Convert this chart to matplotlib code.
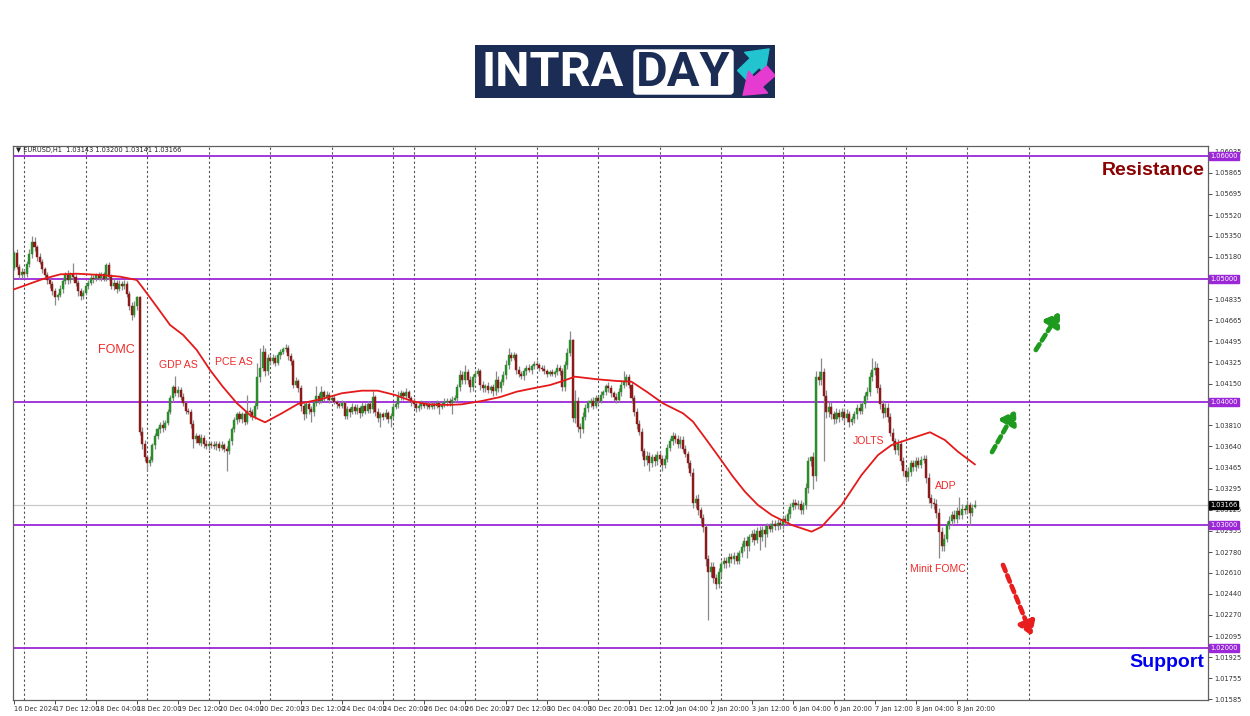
import matplotlib
matplotlib.use('Agg')
import matplotlib.pyplot as plt
from matplotlib.patches import Rectangle, FancyBboxPatch, FancyArrowPatch

# ---------------- data ----------------
symbol_header = "\u25BC EURUSD,H1  1.03143 1.03200 1.03141 1.03166"
last_ohlc = (1.03143, 1.03200, 1.03141, 1.03166)
first_open = 1.0509

closes = [
    1.0521, 1.0510, 1.0503, 1.0506, 1.0504, 1.0512, 1.0520, 1.0530, 1.0526, 1.0518,
    1.0514, 1.0508, 1.0503, 1.0499, 1.0496, 1.0490, 1.0485, 1.0487, 1.0492, 1.0498,
    1.0503, 1.0499, 1.0504, 1.0502, 1.0497, 1.0490, 1.0486, 1.0489, 1.0494, 1.0497,
    1.0501, 1.0500, 1.0503, 1.0501, 1.0504, 1.0500, 1.0511, 1.0502, 1.0494, 1.0497,
    1.0492, 1.0496, 1.0494, 1.0496, 1.0488, 1.0478, 1.0471, 1.0478, 1.0485, 1.0376,
    1.0366, 1.0355, 1.0350, 1.0353, 1.0365, 1.0372, 1.0378, 1.0381, 1.0379, 1.0383,
    1.0392, 1.0403, 1.0412, 1.0407, 1.0410, 1.0404, 1.0399, 1.0393, 1.0392, 1.0382,
    1.0370, 1.0372, 1.0367, 1.0371, 1.0366, 1.0364, 1.0366, 1.0365, 1.0364, 1.0366,
    1.0363, 1.0365, 1.0362, 1.0360, 1.0368, 1.0378, 1.0385, 1.0390, 1.0386, 1.0390,
    1.0384, 1.0393, 1.0392, 1.0388, 1.0397, 1.0420, 1.0428, 1.0441, 1.0425, 1.0436,
    1.0433, 1.0436, 1.0432, 1.0438, 1.0441, 1.0443, 1.0444, 1.0437, 1.0433, 1.0414,
    1.0417, 1.0411, 1.0397, 1.0390, 1.0398, 1.0394, 1.0392, 1.0399, 1.0405, 1.0401,
    1.0408, 1.0404, 1.0406, 1.0402, 1.0403, 1.0400, 1.0398, 1.0397, 1.0399, 1.0389,
    1.0394, 1.0392, 1.0396, 1.0393, 1.0395, 1.0391, 1.0397, 1.0393, 1.0398, 1.0394,
    1.0404, 1.0392, 1.0387, 1.0390, 1.0388, 1.0391, 1.0386, 1.0389, 1.0396, 1.0398,
    1.0404, 1.0407, 1.0405, 1.0408, 1.0403, 1.0400, 1.0398, 1.0395, 1.0397, 1.0399,
    1.0397, 1.0398, 1.0396, 1.0398, 1.0397, 1.0399, 1.0396, 1.0398, 1.0400, 1.0401,
    1.0399, 1.0402, 1.0403, 1.0412, 1.0422, 1.0418, 1.0424, 1.0418, 1.0412, 1.0420,
    1.0423, 1.0425, 1.0414, 1.0411, 1.0413, 1.0410, 1.0412, 1.0409, 1.0418, 1.0411,
    1.0416, 1.0422, 1.0430, 1.0438, 1.0436, 1.0438, 1.0426, 1.0423, 1.0421, 1.0425,
    1.0428, 1.0426, 1.0429, 1.0431, 1.0430, 1.0428, 1.0427, 1.0425, 1.0423, 1.0424,
    1.0423, 1.0424, 1.0428, 1.0425, 1.0412, 1.0430, 1.0440, 1.0450, 1.0387, 1.0401,
    1.0380, 1.0378, 1.0388, 1.0395, 1.0399, 1.0401, 1.0397, 1.0403, 1.0401, 1.0406,
    1.0408, 1.0413, 1.0411, 1.0407, 1.0404, 1.0402, 1.0408, 1.0414, 1.0416, 1.0420,
    1.0414, 1.0403, 1.0392, 1.0382, 1.0376, 1.0360, 1.0353, 1.0356, 1.0350, 1.0355,
    1.0352, 1.0357, 1.0354, 1.0349, 1.0354, 1.0363, 1.0368, 1.0372, 1.0370, 1.0366,
    1.0369, 1.0362, 1.0358, 1.0350, 1.0342, 1.0318, 1.0321, 1.0312, 1.0306, 1.0298,
    1.0272, 1.0262, 1.0266, 1.0257, 1.0252, 1.0262, 1.0268, 1.0271, 1.0269, 1.0274,
    1.0272, 1.0275, 1.0271, 1.0277, 1.0282, 1.0287, 1.0283, 1.0290, 1.0293, 1.0288,
    1.0295, 1.0290, 1.0296, 1.0293, 1.0299, 1.0297, 1.0301, 1.0299, 1.0302, 1.0300,
    1.0305, 1.0303, 1.0309, 1.0315, 1.0318, 1.0316, 1.0317, 1.0312, 1.0316, 1.0330,
    1.0352, 1.0355, 1.0340, 1.0420, 1.0418, 1.0424, 1.0405, 1.0392, 1.0396, 1.0390,
    1.0386, 1.0391, 1.0388, 1.0392, 1.0387, 1.0390, 1.0384, 1.0386, 1.0390, 1.0395,
    1.0393, 1.0398, 1.0405, 1.0408, 1.0420, 1.0426, 1.0428, 1.0411, 1.0398, 1.0391,
    1.0395, 1.0388, 1.0375, 1.0368, 1.0361, 1.0366, 1.0352, 1.0344, 1.0339, 1.0343,
    1.0350, 1.0347, 1.0352, 1.0349, 1.0353, 1.0354, 1.0338, 1.0322, 1.0318, 1.0317,
    1.0310, 1.0294, 1.0283, 1.0289, 1.0300, 1.0303, 1.0308, 1.0305, 1.0311, 1.0308,
    1.0313, 1.0312, 1.0316, 1.0310, 1.0314, 1.03166,
]

# upper / lower wick lengths in pips, read per candle
wick_up = [
    2, 3, 2, 3, 2, 3, 4, 5, 4, 2, 3, 2, 2, 3, 2, 2, 3, 2, 3, 2,
    3, 4, 2, 9, 2, 2, 3, 2, 3, 2, 3, 2, 2, 3, 2, 2, 2, 3, 2, 3,
    2, 3, 2, 3, 2, 2, 3, 4, 1, 1, 4, 3, 2, 3, 2, 3, 2, 3, 4, 2,
    2, 3, 2, 9, 3, 2, 3, 2, 2, 2, 3, 3, 2, 3, 2, 3, 2, 2, 3, 2,
    2, 3, 2, 2, 3, 2, 3, 2, 3, 2, 3, 13, 3, 2, 4, 12, 16, 5, 3, 3,
    2, 3, 2, 3, 2, 2, 3, 2, 3, 2, 3, 2, 3, 2, 3, 2, 3, 3, 8, 2,
    5, 2, 3, 2, 2, 3, 2, 2, 3, 2, 3, 2, 3, 2, 3, 2, 3, 2, 3, 2,
    5, 2, 3, 2, 2, 3, 2, 2, 3, 2, 5, 3, 2, 3, 2, 2, 3, 2, 2, 3,
    2, 2, 3, 2, 2, 3, 2, 2, 3, 2, 2, 3, 3, 3, 4, 3, 6, 3, 3, 3,
    3, 3, 2, 3, 2, 3, 2, 3, 7, 3, 3, 3, 4, 6, 3, 3, 2, 3, 2, 3,
    2, 3, 2, 2, 3, 2, 2, 3, 2, 2, 3, 2, 3, 2, 3, 3, 4, 8, 1, 9,
    3, 3, 4, 3, 3, 2, 3, 3, 2, 3, 2, 2, 3, 3, 2, 3, 3, 4, 9, 3,
    3, 2, 3, 3, 3, 3, 3, 4, 3, 3, 3, 3, 3, 3, 3, 3, 3, 4, 3, 3,
    3, 3, 3, 2, 3, 4, 3, 4, 3, 3, 3, 4, 4, 4, 3, 3, 3, 3, 3, 3,
    3, 3, 3, 3, 3, 3, 4, 3, 3, 4, 3, 4, 3, 4, 3, 3, 3, 3, 3, 3,
    3, 3, 4, 3, 3, 3, 3, 3, 3, 4, 3, 1, 4, 5, 5, 12, 4, 5, 4, 4,
    3, 4, 3, 3, 3, 4, 3, 3, 3, 3, 4, 3, 3, 4, 4, 10, 5, 4, 4, 4,
    4, 4, 3, 4, 3, 4, 3, 3, 3, 4, 3, 3, 3, 3, 3, 3, 3, 4, 3, 4,
    4, 4, 4, 4, 3, 4, 3, 4, 4, 12, 4, 3, 4, 3, 3, 3,
]
wick_dn = [
    2, 2, 3, 2, 3, 2, 2, 3, 3, 3, 2, 3, 2, 3, 3, 3, 6, 2, 2, 3,
    2, 3, 2, 3, 3, 4, 3, 2, 2, 2, 2, 3, 2, 2, 3, 2, 2, 3, 2, 3,
    3, 2, 3, 2, 3, 3, 4, 2, 3, 3, 4, 3, 6, 2, 2, 3, 2, 3, 3, 2,
    2, 2, 3, 2, 3, 2, 2, 3, 2, 3, 7, 3, 2, 3, 3, 2, 3, 2, 2, 3,
    3, 2, 3, 16, 2, 3, 2, 3, 2, 3, 3, 2, 4, 3, 2, 3, 4, 3, 4, 3,
    3, 2, 3, 2, 3, 2, 2, 3, 3, 3, 2, 3, 4, 5, 3, 4, 8, 3, 2, 3,
    2, 3, 2, 3, 2, 2, 3, 2, 2, 3, 3, 4, 2, 3, 3, 4, 2, 3, 2, 3,
    3, 3, 3, 7, 3, 2, 3, 6, 2, 2, 3, 2, 3, 2, 3, 3, 3, 3, 2, 3,
    2, 3, 2, 2, 3, 2, 6, 2, 2, 3, 2, 9, 2, 2, 3, 3, 3, 3, 4, 3,
    3, 2, 4, 3, 3, 3, 3, 4, 3, 3, 3, 2, 3, 3, 3, 2, 3, 3, 2, 3,
    3, 2, 3, 2, 2, 3, 2, 2, 3, 2, 2, 3, 2, 3, 3, 3, 3, 3, 3, 4,
    4, 7, 3, 3, 3, 3, 3, 2, 3, 2, 3, 2, 3, 3, 3, 3, 2, 3, 3, 3,
    3, 4, 3, 4, 3, 4, 5, 4, 6, 3, 4, 3, 4, 5, 3, 3, 3, 3, 3, 3,
    3, 3, 3, 4, 2, 4, 4, 4, 4, 4, 5, 39, 4, 4, 4, 3, 4, 3, 4, 3,
    3, 4, 3, 3, 3, 3, 10, 4, 4, 4, 3, 10, 3, 11, 3, 3, 3, 3, 3, 3,
    3, 3, 3, 3, 3, 3, 3, 3, 3, 3, 4, 4, 11, 4, 4, 4, 53, 5, 4, 4,
    4, 3, 4, 3, 4, 3, 4, 3, 3, 4, 3, 3, 3, 3, 3, 3, 4, 4, 4, 4,
    3, 4, 3, 4, 3, 4, 3, 4, 4, 3, 3, 3, 3, 3, 3, 3, 4, 4, 4, 4,
    4, 21, 4, 4, 3, 3, 3, 3, 3, 3, 3, 3, 3, 10, 3, 0,
]

# red moving average, read at sample bars
ma_bars = [0, 11, 18, 24.5, 33.6, 41.4, 47.9, 50.3, 55.7, 60.9, 66, 71.3, 76.5, 81.5,
           86.9, 92.1, 96, 98, 104.5, 110.8, 120.1, 127.9, 135.7, 142, 148.7, 155.2,
           161.6, 169.4, 174.7, 182.5, 189.7, 196.2, 202.5, 209.2, 214.2, 218.9, 227.4,
           235.2, 241, 246.9, 253.3, 261.1, 265, 270.3, 275.5, 280.6, 285.3, 290.3,
           295.7, 303.5, 311.3, 315.2, 323, 330.8, 337.2, 342.5, 350.3, 357.5, 363.3,
           368.4, 375]
ma_vals = [1.04916, 1.04998, 1.05038, 1.05043, 1.05033, 1.05019, 1.04992, 1.04927,
           1.04775, 1.04626, 1.04545, 1.04423, 1.04260, 1.04124, 1.03992, 1.03894,
           1.03854, 1.03835, 1.03908, 1.03984, 1.04024, 1.04071, 1.04092, 1.04092,
           1.04057, 1.04008, 1.03981, 1.03976, 1.03981, 1.04008, 1.04040, 1.04084,
           1.04111, 1.04138, 1.04171, 1.04206, 1.04185, 1.04171, 1.04165, 1.04084,
           1.03989, 1.03908, 1.03840, 1.03691, 1.03542, 1.03393, 1.03270, 1.03163,
           1.03081, 1.03000, 1.02946, 1.02986, 1.03163, 1.03407, 1.03569, 1.03650,
           1.03705, 1.03754, 1.03691, 1.03596, 1.03493]

level_lines = [1.06, 1.05, 1.04, 1.03, 1.02]
day_lines = [4, 28, 52, 76, 100, 124, 148, 156, 180, 204, 228, 252, 276, 300, 324, 348, 372, 396]

xtick_bars = list(range(0, 369, 16))
xtick_labels = ['16 Dec 2024', '17 Dec 12:00', '18 Dec 04:00', '18 Dec 20:00', '19 Dec 12:00',
                '20 Dec 04:00', '20 Dec 20:00', '23 Dec 12:00', '24 Dec 04:00', '24 Dec 20:00',
                '26 Dec 04:00', '26 Dec 20:00', '27 Dec 12:00', '30 Dec 04:00', '30 Dec 20:00',
                '31 Dec 12:00', '2 Jan 04:00', '2 Jan 20:00', '3 Jan 12:00', '6 Jan 04:00',
                '6 Jan 20:00', '7 Jan 12:00', '8 Jan 04:00', '8 Jan 20:00']
ytick_vals = [1.01585, 1.01755, 1.01925, 1.02095, 1.02270, 1.02440, 1.02610, 1.02780,
              1.02955, 1.03125, 1.03295, 1.03465, 1.03640, 1.03810, 1.03980, 1.04150,
              1.04325, 1.04495, 1.04665, 1.04835, 1.05005, 1.05180, 1.05350, 1.05520,
              1.05695, 1.05865, 1.06035]
# tick labels that sit under a price box on the right axis are not shown
hidden_ytick_labels = [1.05005, 1.03980]

events = [("FOMC", 39.8, 1.04423, 9.0), ("GDP AS", 64.0, 1.04301, 7.6),
          ("PCE AS", 85.9, 1.04325, 7.6), ("JOLTS", 333.7, 1.03683, 7.5),
          ("ADP", 363.7, 1.03317, 7.6), ("Minit FOMC", 360.6, 1.02642, 7.5)]
green_arrows = [((398.8, 1.04423), (408.2, 1.04732)), ((381.7, 1.03593), (391.0, 1.03935))]
red_arrows = [((386.0, 1.02675), (397.3, 1.02098))]

# ---------------- build OHLC ----------------
n = len(closes)
opens = [first_open] + closes[:-1]
opens[-1] = last_ohlc[0]
highs = [max(o, c) + u * 1e-4 for o, c, u in zip(opens, closes, wick_up)]
lows = [min(o, c) - d * 1e-4 for o, c, d in zip(opens, closes, wick_dn)]
highs[-1] = last_ohlc[1]
lows[-1] = last_ohlc[2]

# ---------------- figure ----------------
W, H = 1250, 716
fig = plt.figure(figsize=(W / 100, H / 100), dpi=100)
fig.patch.set_facecolor('white')

ax = fig.add_axes([13 / W, 16 / H, 1195 / W, 554 / H])
ax.set_xlim(-0.4, 466)
ax.set_ylim(1.015772, 1.060813)

# day grid
for b in day_lines:
    ax.axvline(b, color='#505050', lw=0.8, ls=(0, (2, 2.2)), zorder=1)

# level lines
purple = '#9B27D8'
for lv in level_lines:
    ax.axhline(lv, color=purple, lw=1.3, zorder=2)
ax.axhline(last_ohlc[3], color='#C8C8C8', lw=0.9, zorder=1.5)

# candles
bull = '#2A8C2A'
bear = '#8B1A1A'
xs = list(range(n))
ax.vlines(xs, lows, highs, color='#8A8A8A', lw=0.9, zorder=3)
bottoms = [min(o, c) for o, c in zip(opens, closes)]
heights = [max(abs(c - o), 0.00004) for o, c in zip(opens, closes)]
cols = [bull if c >= o else bear for o, c in zip(opens, closes)]
ax.bar(xs, heights, bottom=bottoms, width=0.8, color=cols, edgecolor=cols, lw=0.3, zorder=4)

# moving average
ax.plot(ma_bars, ma_vals, color='#E41A1A', lw=1.3, zorder=5)

# event labels
for txt, bx, py, fs in events:
    ax.text(bx, py, txt, color='#EE2B2B', fontsize=fs, ha='center', va='center',
            family='Liberation Sans', zorder=6)

# resistance / support
ax.text(464.7, 1.05886, 'Resistance', color='#8B0000', fontsize=14, weight='bold',
        ha='right', va='center', family='Liberation Sans', zorder=6)
ax.text(464.7, 1.01886, 'Support', color='#0000EE', fontsize=14, weight='bold',
        ha='right', va='center', family='Liberation Sans', zorder=6)

# arrows
def dashed_arrow(tail, head, color):
    ax.annotate('', xy=head, xytext=tail,
                arrowprops=dict(arrowstyle='-|>,head_length=0.7,head_width=0.45',
                                color=color, lw=3.4, linestyle=(0, (1.4, 1.0)),
                                shrinkA=0, shrinkB=0, mutation_scale=11),
                annotation_clip=False, zorder=6)

for t, h in green_arrows:
    dashed_arrow(t, h, '#1E9A1E')
for t, h in red_arrows:
    dashed_arrow(t, h, '#E81E1E')

# header
ax.text(0.0025, 0.9925, symbol_header, transform=ax.transAxes, fontsize=4.8,
        ha='left', va='center', color='#202020', zorder=7)

# axes style
for s in ax.spines.values():
    s.set_color('#606060')
    s.set_linewidth(0.9)
ax.yaxis.tick_right()
ax.set_yticks(ytick_vals)
ax.set_yticklabels(["" if v in hidden_ytick_labels else f"{v:.5f}" for v in ytick_vals])
ax.set_xticks(xtick_bars)
ax.set_xticklabels(xtick_labels)
ax.tick_params(axis='both', labelsize=4.8, length=3, width=0.6, colors='#303030', pad=1.5)
for lab in ax.get_xticklabels():
    lab.set_ha('left')

# price boxes on right axis
ytr = ax.get_yaxis_transform()
for lv in level_lines:
    ax.text(1.0018, lv, f"{lv:.5f}", transform=ytr, fontsize=4.8, color='white',
            ha='left', va='center', zorder=10, clip_on=False,
            bbox=dict(boxstyle='square,pad=0.15', fc=purple, ec=purple))
ax.text(1.0018, last_ohlc[3], f"{last_ohlc[3]:.5f}", transform=ytr, fontsize=4.8,
        color='white', ha='left', va='center', zorder=10, clip_on=False,
        bbox=dict(boxstyle='square,pad=0.15', fc='black', ec='black'))

# ---------------- logo ----------------
lg = fig.add_axes([475 / W, 1 - 98 / H, 300 / W, 53 / H])
lg.set_xlim(475, 775)
lg.set_ylim(98, 45)
lg.axis('off')
navy = '#1B2D55'
lg.add_patch(Rectangle((475, 45), 300, 53, color=navy))
lg.add_patch(FancyBboxPatch((634, 50), 99, 44, boxstyle='round,pad=0,rounding_size=3',
                            fc='white', ec='white'))
lg.text(482, 72.5, 'INTRA', color='white', fontsize=35, weight='bold', family='Roboto',
        ha='left', va='center')
lg.text(683, 72.5, 'DAY', color=navy, fontsize=35, weight='bold', family='Roboto',
        ha='center', va='center')
lg.add_patch(FancyArrowPatch((740, 77), (771, 47), arrowstyle='simple,head_width=1.6,head_length=1.1,tail_width=0.7',
                             mutation_scale=13, color='#22C4CF'))
lg.add_patch(FancyArrowPatch((773, 69), (741, 97), arrowstyle='simple,head_width=1.6,head_length=1.1,tail_width=0.7',
                             mutation_scale=13, color='#E63BD0'))

fig.savefig('out.png', dpi=100, facecolor='white')
